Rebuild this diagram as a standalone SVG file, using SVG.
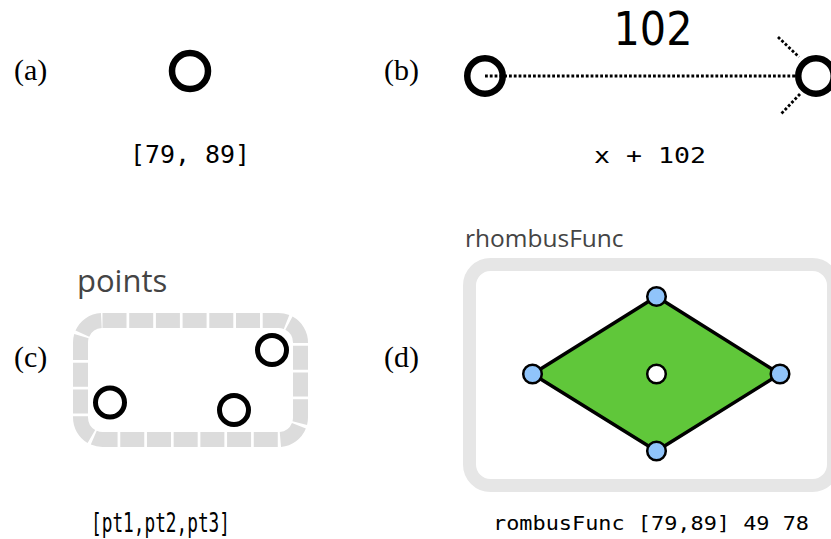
<svg xmlns="http://www.w3.org/2000/svg" width="831" height="539" viewBox="0 0 831 539">
  <style>
    .tag { font-family: "Liberation Serif", "Times New Roman", serif; font-size: 30px; fill: #000; }
    .code { font-family: "DejaVu Sans Mono", "Liberation Mono", monospace; fill: #000; }
    .title { font-family: "Open Sans", "DejaVu Sans", sans-serif; fill: #444; }
    .ring { fill: none; stroke: #000; stroke-width: 6.5; }
    .ring-sm { fill: none; stroke: #000; stroke-width: 5; }
    .dots { fill: none; stroke: #000; stroke-width: 2.8; stroke-dasharray: 2.8 2; }
    .vertex { fill: #90c4fa; stroke: #000; stroke-width: 2.5; }
  </style>
  <rect width="831" height="539" fill="#fff"/>

  <!-- panel labels -->
  <text class="tag" x="14" y="80">(a)</text>
  <text class="tag" x="384" y="80">(b)</text>
  <text class="tag" x="14" y="367">(c)</text>
  <text class="tag" x="384" y="367">(d)</text>

  <!-- (a) single point -->
  <g id="point-a">
    <circle class="ring" cx="190" cy="71" r="18"/>
  </g>
  <text class="code" x="130" y="163" font-size="24" textLength="120" lengthAdjust="spacingAndGlyphs">[79, 89]</text>

  <!-- (b) two points joined by an offset -->
  <g id="connectors">
    <line class="dots" x1="485" y1="76" x2="797" y2="76"/>
    <line class="dots" x1="778" y1="37" x2="799" y2="57"/>
    <line class="dots" x1="800" y1="94" x2="781" y2="114"/>
  </g>
  <g id="point-b1">
    <circle class="ring" cx="485" cy="76" r="17.75"/>
  </g>
  <g id="point-b2">
    <circle class="ring" cx="816" cy="76" r="17.75"/>
  </g>
  <text x="653" y="45" font-family="DejaVu Sans Condensed, DejaVu Sans, sans-serif" font-stretch="condensed" font-size="46" text-anchor="middle" fill="#000">102</text>
  <text class="code" x="594" y="163" font-size="22" textLength="112" lengthAdjust="spacingAndGlyphs">x + 102</text>

  <!-- (c) list of points inside a dashed frame -->
  <g id="points">
    <text class="title" x="77" y="292" font-size="31">points</text>
    <rect x="80.5" y="320.5" width="220" height="119" rx="22" ry="22" fill="none" stroke="#dcdcdc" stroke-width="15" stroke-dasharray="24 2.7"/>
    <circle class="ring-sm" cx="110" cy="402.5" r="14.5"/>
    <circle class="ring-sm" cx="272" cy="350" r="14.5"/>
    <circle class="ring-sm" cx="234" cy="410" r="14.5"/>
  </g>
  <text class="code" x="91" y="532" font-size="27" textLength="139" lengthAdjust="spacingAndGlyphs">[pt1,pt2,pt3]</text>

  <!-- (d) rhombus function -->
  <g id="rhombusFunc">
    <text class="title" x="465" y="247" font-size="24.5">rhombusFunc</text>
    <rect x="469.5" y="264.5" width="364" height="221" rx="21" ry="21" fill="none" stroke="#e6e6e6" stroke-width="13"/>
    <polygon points="656.5,296.5 780,374 656.5,451 532.5,374" fill="#60c73a" stroke="#000" stroke-width="3.5" stroke-linejoin="round"/>
    <circle class="vertex" cx="656.5" cy="296.5" r="9.3"/>
    <circle class="vertex" cx="780" cy="374" r="9.3"/>
    <circle class="vertex" cx="656.5" cy="451" r="9.3"/>
    <circle class="vertex" cx="532.5" cy="374" r="9.3"/>
    <circle cx="656.5" cy="374" r="9.3" fill="#fff" stroke="#000" stroke-width="2.5"/>
  </g>
  <text class="code" x="493" y="530" font-size="19.5" textLength="316" lengthAdjust="spacingAndGlyphs">rombusFunc [79,89] 49 78</text>
</svg>
